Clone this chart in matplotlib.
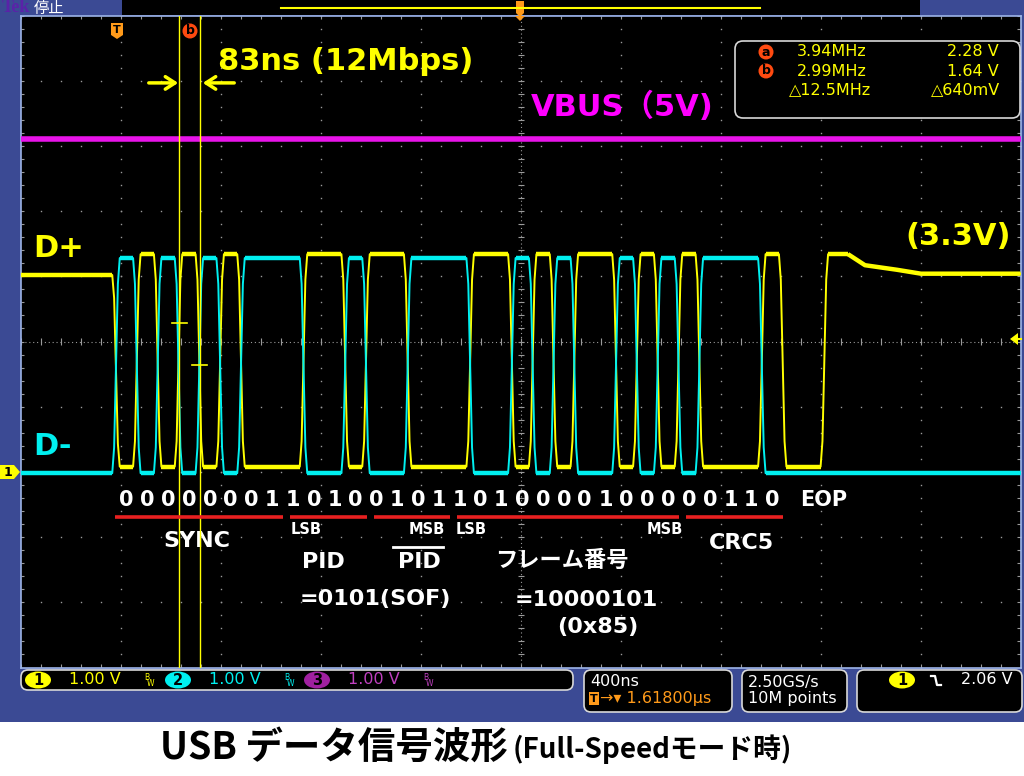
import numpy as np
import matplotlib
matplotlib.use('Agg')
import matplotlib.pyplot as plt
from matplotlib.patches import Rectangle, FancyBboxPatch, Ellipse, Polygon
from matplotlib.collections import LineCollection

# ── packet bits as sent on the wire (LSB first) ──────────────────────────────
sync_bits = [0, 0, 0, 0, 0, 0, 0, 1]
pid_bits = [1, 0, 1, 0]
pid_inv_bits = [0, 1, 0, 1]
frame_bits = [1, 0, 1, 0, 0, 0, 0, 1, 0, 0, 0]
crc5_bits = [0, 0, 1, 1, 0]
eop_bits = 2
bit_ns = 1000 / 12.0          # 83.3 ns

# ── levels (V, ch1/ch2 at 1 V/div) ──────────────────────────────────────────
dp_high, dp_low = 3.34, 0.08
dm_high, dm_low = 3.28, -0.02
dp_idle_pre = 3.02
dp_tail_t = [2928, 2996, 3124, 3220, 3618]
dp_tail_v = [3.34, 3.17, 3.10, 3.04, 3.04]
vbus_v = 5.0
vbus_offset = 0.1

cursor_t = [1e3 / 3.94, 1e3 / 2.99]   # ns after trigger
cursor_v = [2.28, 1.64]
trig_level = 2.06

meas_a = ['3.94MHz', '2.28 V']
meas_b = ['2.99MHz', '1.64 V']
meas_d = ['△12.5MHz', '△640mV']

# ── screen geometry ─────────────────────────────────────────────────────────
T_MIN, T_MAX = -382, 3618        # 400 ns/div, 10 div
V_MIN, V_MAX = -3.0, 7.0         # 1 V/div, 10 div
BLUE = '#3b4a94'
YEL, CYAN, MAG = '#ffff00', '#00f0f0', '#ff00ff'
GRID = '#9a9a9a'
EDGE = 30                        # ns rise/fall


def px_t(x):
    return (x - 116) * 4.0


def px_v(y):
    return (472 - y) / 65.2


fig = plt.figure(figsize=(10.24, 7.76), dpi=100)
fig.patch.set_facecolor('white')

bg = fig.add_axes([0, 0, 1, 1], zorder=0)
bg.set_xlim(0, 1024)
bg.set_ylim(776, 0)
bg.axis('off')
bg.add_patch(Rectangle((0, 0), 1024, 722, facecolor=BLUE, edgecolor='none'))

ax = fig.add_axes([20.5 / 1024, 1 - 667.5 / 776, 1000 / 1024, 652 / 776], zorder=1)
ax.set_facecolor('black')
ax.set_xlim(T_MIN, T_MAX)
ax.set_ylim(V_MIN, V_MAX)
ax.set_xticks([])
ax.set_yticks([])
for sp in ax.spines.values():
    sp.set_color('#9db4e8')
    sp.set_linewidth(1.2)

# ── graticule ───────────────────────────────────────────────────────────────
xg = T_MIN + 400 * np.arange(11)
yg = V_MIN + np.arange(11)
xm = T_MIN + 80 * np.arange(51)
ym = V_MIN + 0.2 * np.arange(51)
for y in yg[1:-1]:
    if y == 2.0:
        continue
    ax.plot(xm, np.full_like(xm, y), ls='none', marker='s', ms=1.0, color=GRID, mew=0)
for x in xg[1:-1]:
    if x == 1618:
        continue
    ax.plot(np.full_like(ym, x), ym, ls='none', marker='s', ms=1.0, color=GRID, mew=0)
ax.plot([T_MIN, T_MAX], [2.0, 2.0], color=GRID, lw=0.8, ls=(0, (1, 2.5)))
ax.plot([1618, 1618], [V_MIN, V_MAX], color=GRID, lw=0.8, ls=(0, (1, 2.5)))
ticks = [[(x, 2.0 - 0.05), (x, 2.0 + 0.05)] for x in xm]
ticks += [[(1618 - 12, y), (1618 + 12, y)] for y in ym]
ticks += [[(x, V_MAX), (x, V_MAX - 0.06)] for x in xm]
ticks += [[(x, V_MIN), (x, V_MIN + 0.06)] for x in xm]
ticks += [[(T_MIN, y), (T_MIN + 14, y)] for y in ym]
ticks += [[(T_MAX, y), (T_MAX - 14, y)] for y in ym]
ax.add_collection(LineCollection(ticks, colors=GRID, linewidths=0.8))

# ── NRZI encoding -> D+ / D- ────────────────────────────────────────────────
bits = sync_bits + pid_bits + pid_inv_bits + frame_bits + crc5_bits
states = []
s = 'J'
for b in bits:
    if b == 0:
        s = 'K' if s == 'J' else 'J'
    states.append(s)
states += ['SE0'] * eop_bits + ['J']

runs = []
for i, st in enumerate(states):
    if runs and runs[-1][0] == st:
        continue
    runs.append((st, i))


def build(levels, pre_v, tail_t, tail_v):
    pts = [(T_MIN, pre_v)]
    flats = []
    start = T_MIN
    prev = pre_v
    for st, i0 in runs:
        v = levels[st]
        if v == prev:
            continue
        te = i0 * bit_ns
        d = v - prev
        pts.append((te - EDGE / 2, prev))
        pts.append((te - EDGE / 4, prev + 0.12 * d))
        pts.append((te + EDGE / 4, v - 0.12 * d))
        flats.append([(start, prev), (te - EDGE / 2, prev)])
        pts.append((te + EDGE / 2, v))
        start = te + EDGE / 2
        prev = v
    flats.append([(start, prev), (tail_t[0], prev)])
    for t, v in zip(tail_t, tail_v):
        pts.append((t, v))
    flats.append(list(zip(tail_t, tail_v)))
    return np.array(pts), flats


dp_pts, dp_flats = build({'J': dp_high, 'K': dp_low, 'SE0': dp_low},
                         dp_idle_pre, dp_tail_t, dp_tail_v)
dm_pts, dm_flats = build({'J': dm_low, 'K': dm_high, 'SE0': dm_low},
                         dm_low, [T_MAX], [dm_low])

ax.plot(dp_pts[:, 0], dp_pts[:, 1], color=YEL, lw=1.4, zorder=3)
ax.add_collection(LineCollection(dp_flats, colors=YEL, linewidths=3.2, zorder=3))
ax.plot(dm_pts[:, 0], dm_pts[:, 1], color=CYAN, lw=1.4, zorder=4)
ax.add_collection(LineCollection(dm_flats, colors=CYAN, linewidths=3.2, zorder=4))

# VBUS on ch3
ax.plot([T_MIN, T_MAX], [vbus_v + vbus_offset] * 2, color='#e814e8', lw=4, zorder=3)

# ── cursors ─────────────────────────────────────────────────────────────────
for t, v in zip(cursor_t, cursor_v):
    ax.axvline(t, color=YEL, lw=1.0, zorder=5)
    ax.plot([t - 30, t + 30], [v, v], color=YEL, lw=1.2, zorder=5)

# ── annotations in the graticule ────────────────────────────────────────────
bold = dict(fontweight='bold', family='DejaVu Sans')
ax.text(px_t(218), px_v(62), '83ns (12Mbps)', color=YEL, fontsize=22,
        va='center', ha='left', **bold)
ax.annotate('', xy=(px_t(181), px_v(83)), xytext=(px_t(146), px_v(83)),
            arrowprops=dict(arrowstyle='->,head_width=0.45,head_length=0.7',
                            color=YEL, lw=2.5))
ax.annotate('', xy=(px_t(200), px_v(83)), xytext=(px_t(237), px_v(83)),
            arrowprops=dict(arrowstyle='->,head_width=0.45,head_length=0.7',
                            color=YEL, lw=2.5))
ax.text(px_t(531), px_v(107), 'VBUS（5V)', color=MAG, fontsize=22, va='center',
        ha='left', fontweight='bold', family=['DejaVu Sans', 'Noto Sans CJK JP'])
ax.text(px_t(33), px_v(249), 'D+', color=YEL, fontsize=22, va='center', **bold)
ax.text(px_t(33), px_v(447), 'D-', color=CYAN, fontsize=22, va='center', **bold)
ax.text(px_t(905), px_v(237), '(3.3V)', color=YEL, fontsize=22, va='center', **bold)

for i, b in enumerate(bits):
    ax.text((i + 0.5) * bit_ns, px_v(500), str(b), color='white', fontsize=15,
            ha='center', va='center', **bold)
ax.text(px_t(800), px_v(500), 'EOP', color='white', fontsize=15, ha='left',
        va='center', **bold)

edges = np.cumsum([0, len(sync_bits), len(pid_bits), len(pid_inv_bits),
                   len(frame_bits), len(crc5_bits)])
for k in range(len(edges) - 1):
    a = edges[k] * bit_ns + (30 if edges[k] else -5)
    b = edges[k + 1] * bit_ns + 2
    ax.plot([a, b], [px_v(517), px_v(517)], color='#e82020', lw=2.6, zorder=5,
            solid_capstyle='butt')

ax.text(px_t(197), px_v(541), 'SYNC', color='white', fontsize=16, ha='center', va='center', **bold)
ax.text(px_t(291), px_v(530), 'LSB', color='white', fontsize=10.5, ha='left', va='center', **bold)
ax.text(px_t(445), px_v(530), 'MSB', color='white', fontsize=10.5, ha='right', va='center', **bold)
ax.text(px_t(456), px_v(530), 'LSB', color='white', fontsize=10.5, ha='left', va='center', **bold)
ax.text(px_t(683), px_v(530), 'MSB', color='white', fontsize=10.5, ha='right', va='center', **bold)
ax.text(px_t(323), px_v(562), 'PID', color='white', fontsize=16, ha='center', va='center', **bold)
ax.text(px_t(419), px_v(562), 'PID', color='white', fontsize=16, ha='center', va='center', **bold)
ax.plot([px_t(393), px_t(443)], [px_v(547), px_v(547)], color='white', lw=2, zorder=5)
ax.text(px_t(562), px_v(561), 'フレーム番号', color='white', fontsize=16, ha='center',
        va='center', fontweight='bold', family=['Noto Sans CJK JP'])
ax.text(px_t(741), px_v(543), 'CRC5', color='white', fontsize=16, ha='center', va='center', **bold)
ax.text(px_t(300), px_v(599), '=0101(SOF)', color='white', fontsize=16, ha='left', va='center', **bold)
ax.text(px_t(515), px_v(600), '=10000101', color='white', fontsize=16, ha='left', va='center', **bold)
ax.text(px_t(598), px_v(627), '(0x85)', color='white', fontsize=16, ha='center', va='center', **bold)

# ── overlay: markers, readouts, status bar, title ──────────────────────────
ov = fig.add_axes([0, 0, 1, 1], zorder=3)
ov.set_xlim(0, 1024)
ov.set_ylim(776, 0)
ov.axis('off')
ov.patch.set_alpha(0)

ui = dict(family='DejaVu Sans', va='center')
ORANGE = '#ff9a1a'

# top bar
ov.text(2, 8, 'Tek', color='#5a22a8', fontsize=13, fontweight='bold',
        family='Liberation Serif', va='center')
ov.text(34, 8, '停止', color='white', fontsize=11, family='Noto Sans CJK JP', va='center')
ov.add_patch(Rectangle((122, 0), 798, 15, facecolor='black', edgecolor='none'))
ov.plot([281, 760], [8, 8], color=YEL, lw=1.5)
ov.add_patch(Polygon([(516, 1), (524, 1), (524, 13), (520, 17), (516, 13)],
                     facecolor=ORANGE, edgecolor='none'))
ov.add_patch(Polygon([(515, 16), (525, 16), (520, 21)], facecolor=ORANGE, edgecolor='none'))

# trigger / cursor flags
ov.add_patch(Polygon([(111, 23), (123, 23), (123, 35), (117, 39), (111, 35)],
                     facecolor=ORANGE, edgecolor='none'))
ov.text(117, 30, 'T', color='black', fontsize=8, fontweight='bold', ha='center', **ui)
ov.add_patch(Ellipse((190, 31), 15, 15, facecolor='#ff4a10', edgecolor='none'))
ov.text(190, 31, 'b', color='black', fontsize=9, fontweight='bold', ha='center', **ui)

# ch1 ground marker and trigger level arrow
ov.add_patch(Polygon([(0, 465), (14, 465), (20, 472), (14, 479), (0, 479)],
                     facecolor=YEL, edgecolor='none'))
ov.text(8, 472, '1', color='black', fontsize=9, fontweight='bold', ha='center', **ui)
ov.add_patch(Polygon([(1010, 339), (1018, 333), (1018, 345)], facecolor=YEL, edgecolor='none'))
ov.plot([1016, 1021], [339, 339], color=YEL, lw=1.5)

# measurement box
ov.add_patch(FancyBboxPatch((735, 41), 285, 77, boxstyle='round,pad=0,rounding_size=8',
                            facecolor='black', edgecolor='#d8d8d8', lw=1.2))
for row, (lab, vals) in enumerate(zip(['a', 'b'], [meas_a, meas_b])):
    y = 52 + 19 * row
    ov.add_patch(Ellipse((766, y), 15, 15, facecolor='#ff4a10', edgecolor='none'))
    ov.text(766, y, lab, color='black', fontsize=9, fontweight='bold', ha='center', **ui)
    ov.text(797, y, vals[0], color=YEL, fontsize=11.5, ha='left', **ui)
    ov.text(999, y, vals[1], color=YEL, fontsize=11.5, ha='right', **ui)
ov.text(789, 90, meas_d[0], color=YEL, fontsize=11.5, ha='left', **ui)
ov.text(1000, 90, meas_d[1], color=YEL, fontsize=11.5, ha='right', **ui)

# status bar boxes
for (x0, y0, w, h) in [(21, 670, 552, 20), (584, 670, 148, 42),
                       (742, 670, 105, 42), (857, 670, 165, 42)]:
    ov.add_patch(FancyBboxPatch((x0, y0), w, h, boxstyle='round,pad=0,rounding_size=7',
                                facecolor='black', edgecolor='#d8d8d8', lw=1.2))

ch_cols = [(YEL, YEL), (CYAN, CYAN), ('#a020a0', '#c040c0')]
ch_x = [38, 178, 317]
for n, (xc, (fc, tc)) in enumerate(zip(ch_x, ch_cols)):
    ov.add_patch(Ellipse((xc, 680), 26, 17, facecolor=fc, edgecolor='none'))
    ov.text(xc, 680.5, str(n + 1), color='black', fontsize=10.5, fontweight='bold',
            ha='center', **ui)
    ov.text(xc + 31, 680, '1.00 V', color=tc, fontsize=11.5, ha='left', **ui)
    ov.text(xc + 106, 677, 'B', color=tc, fontsize=5.5, ha='left', **ui)
    ov.text(xc + 109, 684, 'W', color=tc, fontsize=5.5, ha='left', **ui)

ov.text(590, 682, '400ns', color='white', fontsize=11.5, ha='left', **ui)
ov.add_patch(Rectangle((589, 692), 10, 13, facecolor=ORANGE, edgecolor='none'))
ov.text(594, 698.5, 'T', color='black', fontsize=8, fontweight='bold', ha='center', **ui)
ov.text(600, 698, '→▾ 1.61800µs', color=ORANGE, fontsize=11.5, ha='left', **ui)
ov.text(748, 682, '2.50GS/s', color='white', fontsize=11.5, ha='left', **ui)
ov.text(748, 699, '10M points', color='white', fontsize=11.5, ha='left', **ui)
ov.add_patch(Ellipse((902, 680), 26, 17, facecolor=YEL, edgecolor='none'))
ov.text(902, 680.5, '1', color='black', fontsize=10.5, fontweight='bold', ha='center', **ui)
ov.plot([931, 935, 937, 941], [676, 676, 685, 685], color='white', lw=1.6)
ov.text(1013, 680, f'{trig_level:.2f} V', color='white', fontsize=11.5, ha='right', **ui)

# title
ov.text(160, 747, 'USB データ信号波形', color='black', fontsize=27, fontweight='bold',
        family=['Noto Sans CJK JP'], ha='left', va='center')
ov.text(513, 749, '(Full-Speedモード時)', color='black', fontsize=20, fontweight='bold',
        family=['Noto Sans CJK JP'], ha='left', va='center')

fig.savefig('out.png', dpi=100, facecolor=fig.get_facecolor())
